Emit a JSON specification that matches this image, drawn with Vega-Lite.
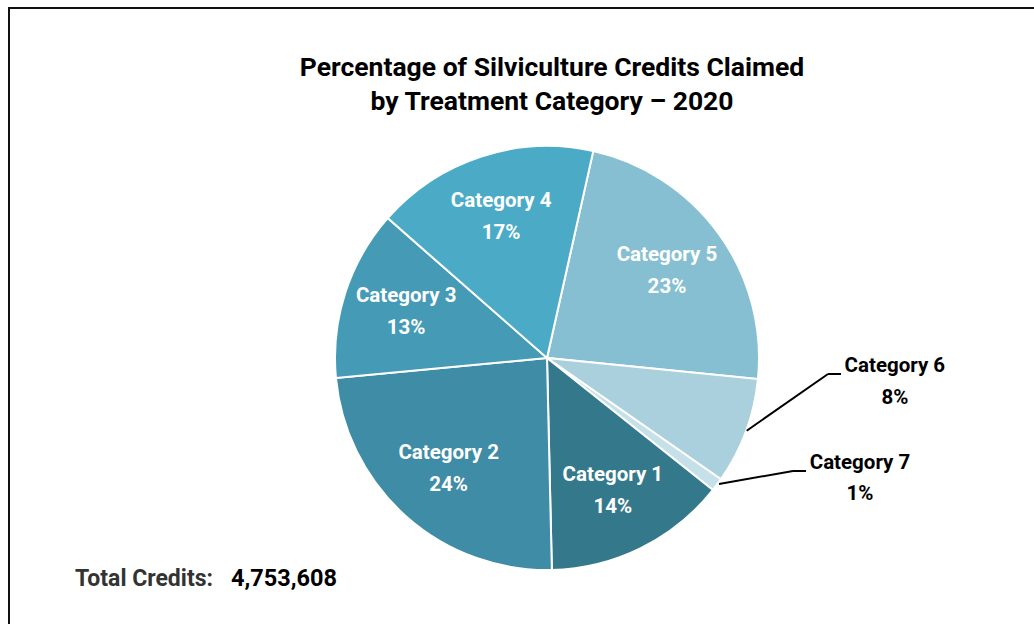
{
  "$schema": "https://vega.github.io/schema/vega-lite/v6.json",
  "width": 1076,
  "height": 700,
  "autosize": "none",
  "padding": {"left": 9, "top": 8, "right": -51, "bottom": -84},
  "background": "white",
  "config": {"view": {"stroke": "#111111", "strokeWidth": 2}, "font": "Roboto"},
  "title": {
    "text": ["Percentage of Silviculture Credits Claimed", "by Treatment Category – 2020"],
    "font": "Roboto",
    "fontSize": 26.5,
    "fontWeight": "bold",
    "color": "#000000",
    "lineHeight": 34,
    "anchor": "middle",
    "offset": -107,
    "dx": 5
  },
  "datasets": {
    "slices": [
      {"category": "Category 5", "pct": "23%", "share": 23.08, "seq": 1},
      {"category": "Category 6", "pct": "8%", "share": 8.11, "seq": 2},
      {"category": "Category 7", "pct": "1%", "share": 1.0, "seq": 3},
      {"category": "Category 1", "pct": "14%", "share": 13.94, "seq": 4},
      {"category": "Category 2", "pct": "24%", "share": 23.86, "seq": 5},
      {"category": "Category 3", "pct": "13%", "share": 12.97, "seq": 6},
      {"category": "Category 4", "pct": "17%", "share": 17.03, "seq": 7}
    ],
    "total": [{"label": "Total Credits:", "credits": 4753608}],
    "dummy": [{"n": 1}]
  },
  "layer": [
    {
      "data": {"name": "slices"},
      "mark": {"type": "arc", "outerRadius": 212, "stroke": "white", "strokeWidth": 2},
      "encoding": {
        "theta": {"field": "share", "type": "quantitative", "stack": true, "scale": {"range": [0.2199, 6.5031]}},
        "order": {"field": "seq", "type": "quantitative"},
        "color": {
          "field": "category",
          "type": "nominal",
          "legend": null,
          "scale": {
            "domain": ["Category 1", "Category 2", "Category 3", "Category 4", "Category 5", "Category 6", "Category 7"],
            "range": ["#34798b", "#3e8ca5", "#459ab5", "#4babc7", "#86bfd2", "#aacfdd", "#c6e0e9"]
          }
        }
      }
    },
    {
      "data": {"name": "slices"},
      "mark": {"type": "text", "radius": 148, "dy": -16, "font": "Roboto", "fontSize": 20.5, "fontWeight": "bold", "fill": "white", "align": "center", "baseline": "middle"},
      "encoding": {
        "theta": {"field": "share", "type": "quantitative", "stack": true},
        "order": {"field": "seq", "type": "quantitative"},
        "text": {"field": "category"},
        "opacity": {"condition": {"test": "datum.category !== 'Category 6' && datum.category !== 'Category 7'", "value": 1}, "value": 0}
      }
    },
    {
      "data": {"name": "slices"},
      "mark": {"type": "text", "radius": 148, "dy": 16, "font": "Roboto", "fontSize": 20.5, "fontWeight": "bold", "fill": "white", "align": "center", "baseline": "middle"},
      "encoding": {
        "theta": {"field": "share", "type": "quantitative", "stack": true},
        "order": {"field": "seq", "type": "quantitative"},
        "text": {"field": "pct"},
        "opacity": {"condition": {"test": "datum.category !== 'Category 6' && datum.category !== 'Category 7'", "value": 1}, "value": 0}
      }
    },
    {
      "data": {"name": "slices"},
      "mark": {"type": "text", "radius": 212, "dx": 149, "dy": -66, "font": "Roboto", "fontSize": 20.5, "fontWeight": "bold", "fill": "black", "align": "center", "baseline": "middle"},
      "encoding": {
        "theta": {"field": "share", "type": "quantitative", "stack": true},
        "order": {"field": "seq", "type": "quantitative"},
        "text": {"field": "category"},
        "opacity": {"condition": {"test": "datum.category === 'Category 6'", "value": 1}, "value": 0}
      }
    },
    {
      "data": {"name": "slices"},
      "mark": {"type": "text", "radius": 212, "dx": 149, "dy": -34, "font": "Roboto", "fontSize": 20.5, "fontWeight": "bold", "fill": "black", "align": "center", "baseline": "middle"},
      "encoding": {
        "theta": {"field": "share", "type": "quantitative", "stack": true},
        "order": {"field": "seq", "type": "quantitative"},
        "text": {"field": "pct"},
        "opacity": {"condition": {"test": "datum.category === 'Category 6'", "value": 1}, "value": 0}
      }
    },
    {
      "data": {"name": "slices"},
      "mark": {"type": "text", "radius": 212, "dx": 143, "dy": -22, "font": "Roboto", "fontSize": 20.5, "fontWeight": "bold", "fill": "black", "align": "center", "baseline": "middle"},
      "encoding": {
        "theta": {"field": "share", "type": "quantitative", "stack": true},
        "order": {"field": "seq", "type": "quantitative"},
        "text": {"field": "category"},
        "opacity": {"condition": {"test": "datum.category === 'Category 7'", "value": 1}, "value": 0}
      }
    },
    {
      "data": {"name": "slices"},
      "mark": {"type": "text", "radius": 212, "dx": 143, "dy": 9, "font": "Roboto", "fontSize": 20.5, "fontWeight": "bold", "fill": "black", "align": "center", "baseline": "middle"},
      "encoding": {
        "theta": {"field": "share", "type": "quantitative", "stack": true},
        "order": {"field": "seq", "type": "quantitative"},
        "text": {"field": "pct"},
        "opacity": {"condition": {"test": "datum.category === 'Category 7'", "value": 1}, "value": 0}
      }
    },
    {
      "data": {"name": "dummy"},
      "mark": {"type": "rule", "stroke": "black", "strokeWidth": 2},
      "encoding": {"x": {"value": 737.7}, "y": {"value": 422.7}, "x2": {"value": 819}, "y2": {"value": 366}}
    },
    {
      "data": {"name": "dummy"},
      "mark": {"type": "rule", "stroke": "black", "strokeWidth": 2},
      "encoding": {"x": {"value": 819}, "y": {"value": 366}, "x2": {"value": 832}, "y2": {"value": 366}}
    },
    {
      "data": {"name": "dummy"},
      "mark": {"type": "rule", "stroke": "black", "strokeWidth": 2},
      "encoding": {"x": {"value": 710}, "y": {"value": 476}, "x2": {"value": 784}, "y2": {"value": 463}}
    },
    {
      "data": {"name": "dummy"},
      "mark": {"type": "rule", "stroke": "black", "strokeWidth": 2},
      "encoding": {"x": {"value": 784}, "y": {"value": 463}, "x2": {"value": 797}, "y2": {"value": 463}}
    },
    {
      "data": {"name": "total"},
      "mark": {"type": "text", "font": "Roboto", "fontSize": 23, "fontWeight": "bold", "fill": "#333333", "align": "left", "baseline": "alphabetic"},
      "encoding": {"text": {"field": "label"}, "x": {"value": 66}, "y": {"value": 578}}
    },
    {
      "data": {"name": "total"},
      "mark": {"type": "text", "font": "Roboto", "fontSize": 23.5, "fontWeight": "bold", "fill": "#000000", "align": "left", "baseline": "alphabetic"},
      "encoding": {"text": {"field": "credits", "type": "quantitative", "format": ",.0f"}, "x": {"value": 222}, "y": {"value": 578}}
    }
  ]
}
